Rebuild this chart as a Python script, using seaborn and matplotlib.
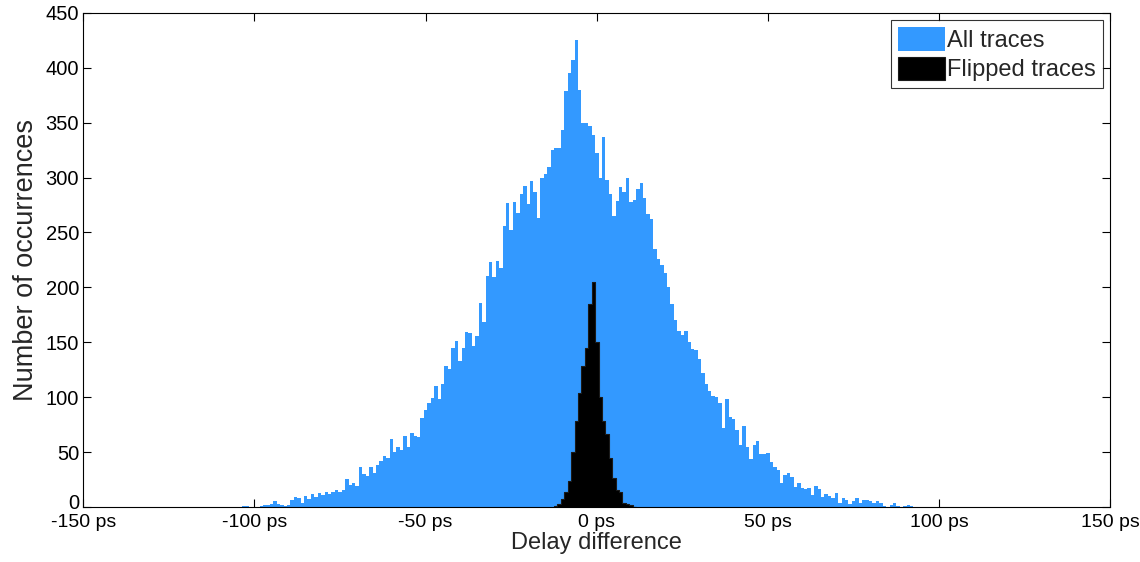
import numpy as np
import matplotlib
matplotlib.use("Agg")
import matplotlib.pyplot as plt
import matplotlib.transforms as mtransforms
from matplotlib.ticker import FuncFormatter
import pandas as pd
import seaborn as sns

sns.set_theme(style="white")
plt.rcParams['font.family'] = ['Liberation Sans', 'DejaVu Sans']

# bin counts, 1 ps bins centred on whole ps values
all_start = -104
all_counts = [
    0, 1, 1, 0, 0, 0, 1, 2, 2, 3,            # -104 .. -95
    5, 3, 2, 1, 2, 6, 9, 8, 4, 10,           # -94 .. -85
    7, 12, 9, 13, 11, 14, 12, 14, 15, 14,    # -84 .. -75
    15, 25, 20, 22, 19, 36, 30, 28, 36, 31,  # -74 .. -65
    38, 42, 46, 45, 62, 50, 55, 52, 65, 55,  # -64 .. -55
    67, 65, 64, 81, 88, 95, 99, 110, 98, 112,       # -54 .. -45
    128, 126, 145, 151, 133, 145, 159, 158, 147, 156,  # -44 .. -35
    186, 168, 210, 223, 209, 224, 218, 256, 277, 252,  # -34 .. -25
    278, 268, 285, 292, 276, 297, 287, 263, 300, 303,  # -24 .. -15
    310, 325, 327, 327, 343, 379, 395, 407, 425, 380,  # -14 .. -5
    350, 350, 347, 339, 322, 300, 337, 298, 285, 265,  # -4 .. 5
    279, 291, 287, 300, 278, 280, 290, 295, 281, 267,  # 6 .. 15
    262, 235, 226, 220, 213, 200, 185, 170, 160, 157,  # 16 .. 25
    160, 150, 144, 143, 135, 122, 112, 106, 101, 100,  # 26 .. 35
    95, 72, 98, 82, 80, 70, 56, 74, 55, 44,            # 36 .. 45
    56, 60, 48, 48, 49, 41, 36, 34, 22, 29,            # 46 .. 55
    31, 27, 18, 22, 17, 16, 17, 11, 19, 16,            # 56 .. 65
    9, 12, 10, 8, 13, 4, 8, 6, 3, 5,                   # 66 .. 75
    8, 4, 6, 6, 5, 4, 5, 4, 1, 0,                      # 76 .. 85
    2, 4, 1, 0, 1, 2, 1, 0,                            # 86 .. 93
]

flip_start = -12
flip_counts = [1, 3, 7, 14, 24, 50, 78, 104, 128, 145, 185, 205,
               150, 100, 78, 66, 45, 26, 15, 14, 4, 3, 2, 0]

all_x = np.arange(all_start, all_start + len(all_counts))
flip_x = np.arange(flip_start, flip_start + len(flip_counts))
df_all = pd.DataFrame({"delay": all_x, "count": all_counts})
df_flip = pd.DataFrame({"delay": flip_x, "count": flip_counts})

fig = plt.figure(figsize=(11.4, 5.62), dpi=100)
ax = fig.add_axes([0.073, 0.098, 0.901, 0.879])

sns.histplot(data=df_all, x="delay", weights="count", binwidth=1.0,
             binrange=(all_start - 0.5, all_x[-1] + 0.5),
             element="step", fill=True, color="#3399ff", alpha=1,
             linewidth=0, ax=ax, label="All traces")
sns.histplot(data=df_flip, x="delay", weights="count", binwidth=1.0,
             binrange=(flip_start - 0.5, flip_x[-1] + 0.5),
             element="step", fill=True, color="black", alpha=1,
             linewidth=0.8, edgecolor="#1a1a1a", ax=ax, label="Flipped traces")

ax.set_xlim(-150, 150)
ax.set_ylim(0, 450)
ax.set_xticks(np.arange(-150, 151, 50))
ax.set_yticks(np.arange(0, 451, 50))
ax.xaxis.set_major_formatter(FuncFormatter(lambda v, p: "{:.0f} ps".format(v)))

for s in ax.spines.values():
    s.set_color("black")
    s.set_linewidth(0.8)
ax.tick_params(direction="in", length=6, width=0.8, top=True, right=True,
               bottom=True, left=True, labelsize=14.5, colors="black", pad=3)
ax.tick_params(axis="x", labelsize=14, pad=5)
ax.set_xlabel("Delay difference", fontsize=17, labelpad=1)
ax.set_ylabel("Number of occurrences", fontsize=19.5, labelpad=5)

# nudge the "0" label up a little, as in the original, so it clears "-150 ps"
zero_lab = ax.get_yticklabels()[0]
zero_lab.set_transform(zero_lab.get_transform() +
                       mtransforms.ScaledTranslation(0, 4 / 72, fig.dpi_scale_trans))

leg = ax.legend(loc="upper right", fontsize=17, frameon=True, fancybox=False,
                edgecolor="black", handlelength=2.0, handleheight=1.15,
                handletextpad=0.1, borderpad=0.3, labelspacing=0.2,
                borderaxespad=0.3)
leg.get_frame().set_linewidth(0.8)

plt.savefig("out.png", dpi=100)
